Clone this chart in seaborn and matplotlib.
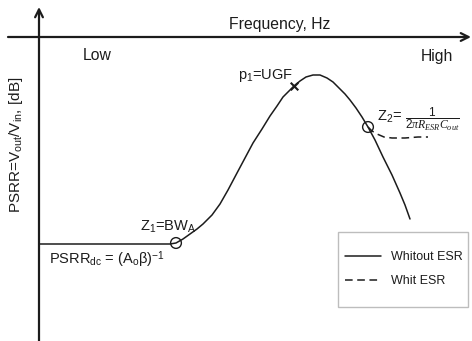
import matplotlib
matplotlib.use("Agg")
import matplotlib.pyplot as plt
import seaborn as sns
import pandas as pd
from matplotlib.patches import Rectangle

# ---- data (schematic in pixel units) ----
curve_x = [39, 170, 176, 183, 190, 197, 203, 212, 220, 228, 237, 245, 253, 262, 270, 277,
           283, 289, 294, 300, 306, 313, 320, 327, 333, 340, 345, 350, 356, 362, 368,
           375, 383, 392, 400, 405, 410]
curve_y = [244, 244, 243, 239, 234, 229, 224, 215, 204, 190, 173, 158, 143, 129, 116, 106,
           97, 91, 86, 81, 77, 75, 75, 78, 82, 89, 94, 100, 108, 117, 127,
           140, 157, 175, 193, 205, 219]
esr_x = [368, 372, 377, 384, 392, 405, 418, 428]
esr_y = [127, 131, 134, 137, 138, 138, 137, 137]
zero_x = [176, 368]
zero_y = [243, 127]
pole_x = [294]
pole_y = [86]
series_names = ["Whitout ESR", "Whit ESR"]

sns.set_theme(style="white")
plt.rcParams["font.family"] = ["Liberation Sans", "DejaVu Sans"]
plt.rcParams["mathtext.fontset"] = "custom"
plt.rcParams["mathtext.rm"] = "Liberation Sans"
plt.rcParams["mathtext.it"] = "Liberation Serif:italic"
plt.rcParams["mathtext.bf"] = "Liberation Sans:bold"

ink = "#1c1c1c"

df = pd.concat([
    pd.DataFrame({"x": curve_x, "y": curve_y, "series": series_names[0]}),
    pd.DataFrame({"x": esr_x, "y": esr_y, "series": series_names[1]}),
])

fig = plt.figure(figsize=(4.72, 3.41), dpi=100)
ax = fig.add_axes([0, 0, 1, 1])

sns.lineplot(data=df, x="x", y="y", style="series", color=ink, sort=False,
             estimator=None, dashes={series_names[0]: "", series_names[1]: (5, 3)},
             linewidth=1.1, legend=False, ax=ax)

sns.scatterplot(x=zero_x, y=zero_y, marker="o", s=60, facecolor="none",
                edgecolor=ink, linewidth=1.0, ax=ax, zorder=5)
sns.scatterplot(x=pole_x, y=pole_y, marker="x", s=30, color=ink,
                linewidth=1.5, ax=ax, zorder=5)

ax.set_xlim(0, 472)
ax.set_ylim(341, 0)
ax.axis("off")

# axes arrows
ax.annotate("", xy=(471, 37), xytext=(8, 37),
            arrowprops=dict(arrowstyle="->", lw=1.6, color=ink, mutation_scale=14,
                            shrinkA=0, shrinkB=0))
ax.annotate("", xy=(39, 7), xytext=(39, 345),
            arrowprops=dict(arrowstyle="->", lw=1.6, color=ink, mutation_scale=14,
                            shrinkA=0, shrinkB=0))

# texts
ax.text(280, 24, "Frequency, Hz", fontsize=11.3, color=ink, ha="center", va="center")
ax.text(83, 56, "Low", fontsize=11.3, color=ink, ha="left", va="center")
ax.text(421, 56, "High", fontsize=11.3, color=ink, ha="left", va="center")
ax.text(16, 145, r"PSRR=V$_{\mathrm{out}}$/V$_{\mathrm{in}}$, [dB]", fontsize=11,
        color=ink, ha="center", va="center", rotation=90)
ax.text(238, 76, r"p$_{\mathrm{1}}$=UGF", fontsize=10.5, color=ink, ha="left", va="center")
ax.text(140, 227, r"Z$_{\mathrm{1}}$=BW$_{\mathrm{A}}$", fontsize=10.5, color=ink,
        ha="left", va="center")
ax.text(49, 260, r"PSRR$_{\mathrm{dc}}$ = (A$_{\mathrm{o}}$β)$^{\mathrm{-1}}$",
        fontsize=10.5, color=ink, ha="left", va="center")
ax.text(377, 117, r"Z$_{\mathrm{2}}$=", fontsize=10.5, color=ink, ha="left", va="center")
ax.text(432, 119, r"$\dfrac{\mathit{1}}{\mathit{2\pi R_{ESR}C_{out}}}$", fontsize=8.5,
        color=ink, ha="center", va="center")

# legend box and legend
ax.add_patch(Rectangle((338, 232), 130, 75, fill=False, edgecolor="#bdbdbd", lw=1.0))
leg = ax.legend(handles=ax.lines[:2], labels=series_names, loc="upper left",
                bbox_to_anchor=(345 / 472, 1 - 251 / 341), frameon=False,
                borderpad=0, borderaxespad=0, handlelength=2.9, handletextpad=0.8,
                labelspacing=1.0, fontsize=9)
for t in leg.get_texts():
    t.set_color(ink)

fig.savefig("out.png", dpi=100)
